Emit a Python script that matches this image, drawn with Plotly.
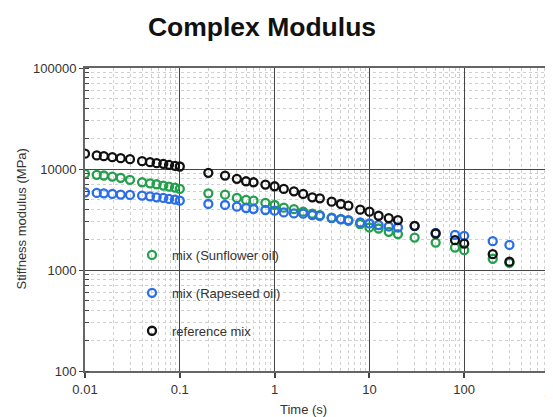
import plotly.graph_objects as go

# ---- data ----
time_s = [0.01, 0.0133, 0.0158, 0.0194, 0.0238, 0.0298, 0.040, 0.0485, 0.057, 0.067, 0.077, 0.089, 0.1,
          0.2, 0.3, 0.4, 0.5, 0.6, 0.8, 1, 1.25, 1.6, 2, 2.5, 3, 4, 5, 6, 8, 10, 12.5, 16, 20,
          30, 50, 80, 100, 200, 300]

sunflower = [8960, 8755, 8620, 8420, 8175, 7810, 7390, 7220, 7060, 6855, 6700, 6545, 6355,
             5743, 5575, 5170, 4937, 4860, 4610, 4403, 4139, 4000, 3777, 3607, 3485, 3291, 3180, 3073,
             2849, 2636, 2576, 2388, 2266, 2096, 1868, 1667, 1570, 1292, 1174]

rapeseed = [5880, 5800, 5745, 5670, 5580, 5535, 5450, 5365, 5240, 5170, 5050, 4970, 4860,
            4505, 4403, 4235, 4111, 4018, 3926, 3864, 3716, 3632, 3610, 3501, 3445, 3268, 3194, 3122,
            2955, 2888, 2785, 2697, 2636, 2720, 2330, 2230, 2180, 1930, 1773]

reference = [14170, 13630, 13400, 13100, 12800, 12520, 11960, 11690, 11420, 11260, 11010, 10760, 10590,
             9167, 8614, 7990, 7560, 7390, 7010, 6745, 6353, 6013, 5665, 5240, 5122, 4749, 4505, 4333,
             3954, 3777, 3445, 3268, 3122, 2740, 2297, 1974, 1826, 1433, 1209]

series_names = ["mix (Sunflower oil)", "mix (Rapeseed oil)", "reference mix"]
series_colors = ["#22a04b", "#2a6ee8", "#111111"]

x_tick_vals = [0.01, 0.1, 1, 10, 100]
x_tick_text = ["0.01", "0.1", "1", "10", "100"]
y_tick_vals = [100, 1000, 10000, 100000]
y_tick_text = ["100", "1000", "10000", "100000"]

FONT = "Liberation Sans, Arial, sans-serif"

fig = go.Figure()
for i, (name, vals, col) in enumerate(zip(series_names, [sunflower, rapeseed, reference], series_colors)):
    fig.add_trace(go.Scatter(
        x=time_s, y=vals, mode="markers", name=name, legendgroup=f"g{i}",
        marker=dict(symbol="circle-open", size=8, color=col, line=dict(width=2.3, color=col)),
    ))

OFF = 8  # page body margin offset
W, H = 553 - OFF, 417 - OFF
L, T = 85 - OFF, 68 - OFF
R = 0
B = 417 - 371
pw, ph = W - L - R, H - T - B

def px_x(px):
    return (px - OFF - L) / pw

def px_y(py):
    return (H - B - (py - OFF)) / ph

fig.update_layout(
    width=W, height=H,
    margin=dict(l=L, r=R, t=T, b=B),
    paper_bgcolor="white", plot_bgcolor="white",
    font=dict(family=FONT, size=13, color="#333"),
    title=dict(text="<b>Complex Modulus</b>", x=(262 - OFF) / W, xanchor="center",
               y=1 - (27 - OFF) / H, yanchor="middle",
               font=dict(family=FONT, size=26.5, color="#111")),
    showlegend=True,
    legend=dict(x=px_x(132), y=px_y(240), xanchor="left", yanchor="top",
                bgcolor="rgba(0,0,0,0)", borderwidth=0, tracegroupgap=18,
                font=dict(family=FONT, size=13, color="#333"),
                itemwidth=30),
    xaxis=dict(type="log", range=[-2, (553 - 85) / 94.8 - 2],
               tickvals=x_tick_vals, ticktext=x_tick_text,
               showgrid=True, gridcolor="#444", gridwidth=1,
               showline=True, linecolor="#666", linewidth=2, mirror=True,
               ticks="outside", ticklen=5, tickcolor="#444", tickwidth=1.5,
               tickfont=dict(family=FONT, size=13, color="#333"),
               minor=dict(dtick="D1", showgrid=True, gridcolor="#d0d0d0",
                          griddash="dot", gridwidth=1, ticks=""),
               zeroline=False),
    yaxis=dict(type="log", range=[2, 5],
               tickvals=y_tick_vals, ticktext=y_tick_text,
               showgrid=True, gridcolor="#444", gridwidth=1,
               showline=True, linecolor="#666", linewidth=2,
               ticks="outside", ticklen=4, tickcolor="#444",
               tickfont=dict(family=FONT, size=13, color="#333"),
               minor=dict(dtick="D1", showgrid=True, gridcolor="#d0d0d0",
                          griddash="dot", gridwidth=1, ticks="inside",
                          ticklen=4, tickcolor="#444"),
               zeroline=False),
    shapes=[dict(type="rect", xref="paper", yref="paper",
                 x0=px_x(115), x1=px_x(315), y0=px_y(355), y1=px_y(222),
                 fillcolor="white", line=dict(width=0), layer="between")],
    annotations=[
        dict(text="Stiffness modulus (MPa)", xref="paper", yref="paper",
             x=px_x(21), y=0.5, xanchor="center", yanchor="middle",
             textangle=-90, showarrow=False,
             font=dict(family=FONT, size=13, color="#333")),
        dict(text="Time (s)", xref="paper", yref="paper",
             x=px_x(303), y=px_y(409), xanchor="center", yanchor="middle",
             showarrow=False, font=dict(family=FONT, size=13, color="#333")),
        dict(text="1000", xref="paper", yref="paper",
             x=px_x(558), y=px_y(392), xanchor="center", yanchor="middle",
             showarrow=False, font=dict(family=FONT, size=13, color="#333")),
    ],
)

fig.write_html("out.html")
